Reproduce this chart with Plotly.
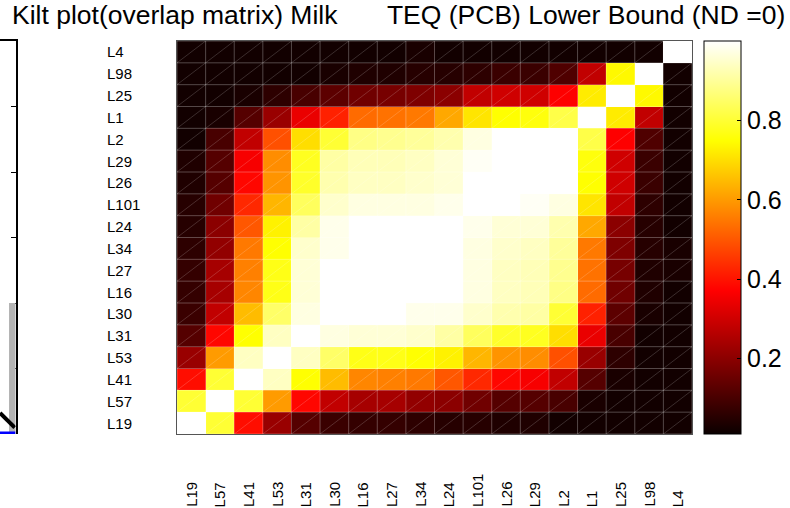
import plotly.graph_objects as go

labels = ["L19", "L57", "L41", "L53", "L31", "L30", "L16", "L27", "L34",
          "L24", "L101", "L26", "L29", "L2", "L1", "L25", "L98", "L4"]

row_L19 = [1.00, 0.80, 0.39, 0.22, 0.12, 0.08, 0.07, 0.07, 0.06, 0.05, 0.05, 0.04, 0.04, 0.02, 0.02, 0.02, 0.02, 0.02]
row_L57 = [0.80, 1.00, 0.80, 0.60, 0.38, 0.28, 0.24, 0.24, 0.21, 0.20, 0.16, 0.12, 0.12, 0.10, 0.03, 0.02, 0.02, 0.02]
row_L41 = [0.39, 0.80, 1.00, 0.94, 0.75, 0.65, 0.57, 0.56, 0.55, 0.50, 0.43, 0.38, 0.36, 0.28, 0.12, 0.03, 0.02, 0.02]
row_L53 = [0.22, 0.60, 0.94, 1.00, 0.94, 0.85, 0.77, 0.77, 0.75, 0.73, 0.64, 0.59, 0.58, 0.49, 0.22, 0.06, 0.02, 0.02]
row_L31 = [0.12, 0.38, 0.75, 0.94, 1.00, 0.97, 0.96, 0.96, 0.95, 0.91, 0.84, 0.79, 0.78, 0.70, 0.34, 0.10, 0.02, 0.02]
row_L30 = [0.08, 0.28, 0.65, 0.85, 0.97, 1.00, 1.00, 1.00, 0.98, 0.98, 0.95, 0.92, 0.91, 0.80, 0.42, 0.13, 0.03, 0.02]
row_L16 = [0.07, 0.24, 0.57, 0.77, 0.96, 1.00, 1.00, 1.00, 1.00, 1.00, 0.97, 0.94, 0.93, 0.88, 0.53, 0.16, 0.04, 0.02]
row_L27 = [0.07, 0.24, 0.56, 0.77, 0.96, 1.00, 1.00, 1.00, 1.00, 1.00, 0.97, 0.94, 0.93, 0.89, 0.54, 0.17, 0.04, 0.03]
row_L34 = [0.06, 0.21, 0.55, 0.75, 0.95, 0.98, 1.00, 1.00, 1.00, 1.00, 0.97, 0.95, 0.94, 0.90, 0.55, 0.18, 0.05, 0.03]
row_L24 = [0.05, 0.20, 0.50, 0.73, 0.91, 0.98, 1.00, 1.00, 1.00, 1.00, 0.98, 0.96, 0.96, 0.92, 0.62, 0.20, 0.05, 0.02]
row_L101 = [0.05, 0.16, 0.43, 0.64, 0.84, 0.95, 0.97, 0.97, 0.97, 0.98, 1.00, 1.00, 0.99, 0.97, 0.71, 0.28, 0.06, 0.02]
row_L26 = [0.04, 0.12, 0.38, 0.59, 0.79, 0.92, 0.94, 0.94, 0.95, 0.96, 1.00, 1.00, 1.00, 1.00, 0.75, 0.30, 0.08, 0.02]
row_L29 = [0.04, 0.12, 0.36, 0.58, 0.78, 0.91, 0.93, 0.93, 0.94, 0.96, 0.99, 1.00, 1.00, 1.00, 0.76, 0.30, 0.08, 0.02]
row_L2 = [0.02, 0.10, 0.28, 0.49, 0.70, 0.80, 0.88, 0.89, 0.90, 0.92, 0.97, 1.00, 1.00, 1.00, 0.82, 0.37, 0.11, 0.02]
row_L1 = [0.02, 0.03, 0.12, 0.22, 0.34, 0.42, 0.53, 0.54, 0.55, 0.62, 0.71, 0.75, 0.76, 0.82, 1.00, 0.72, 0.28, 0.02]
row_L25 = [0.02, 0.02, 0.03, 0.06, 0.10, 0.13, 0.16, 0.17, 0.18, 0.20, 0.28, 0.30, 0.30, 0.37, 0.72, 1.00, 0.74, 0.02]
row_L98 = [0.02, 0.02, 0.02, 0.02, 0.02, 0.03, 0.04, 0.04, 0.05, 0.05, 0.06, 0.08, 0.08, 0.11, 0.28, 0.74, 1.00, 0.02]
row_L4 = [0.02, 0.02, 0.02, 0.02, 0.02, 0.02, 0.02, 0.02, 0.03, 0.02, 0.02, 0.02, 0.02, 0.02, 0.02, 0.02, 0.02, 1.00]

colorbar_ticks = [0.2, 0.4, 0.6, 0.8]

# partial neighbouring panel (cut off at the left edge)
strip_bar_x = [0.79]
strip_bar_h = [2.0]
strip_line_x = [0.0, 0.95]
strip_line_y = [0.32, 0.10]
strip_base_x = [0.0, 1.0]
strip_base_y = [0.02, 0.02]

z = [row_L19, row_L57, row_L41, row_L53, row_L31, row_L30, row_L16, row_L27, row_L34,
     row_L24, row_L101, row_L26, row_L29, row_L2, row_L1, row_L25, row_L98, row_L4]
n = len(labels)
idx = list(range(n))

FONT = "Liberation Sans, Arial, sans-serif"
W, H = 790, 508
L, R, T, B = 177, 692, 41, 434

hot = [[0.0, "rgb(11,0,0)"], [0.365, "rgb(255,0,0)"],
       [0.746, "rgb(255,255,0)"], [1.0, "rgb(255,255,255)"]]

fig = go.Figure()
fig.add_trace(go.Heatmap(
    z=z, x=idx, y=idx, zmin=0.01, zmax=1.0, colorscale=hot,
    colorbar=dict(thickness=37, thicknessmode="pixels", len=1, lenmode="fraction",
                  x=704 / W, xanchor="left", xpad=0, y=0.5, yanchor="middle", ypad=0,
                  outlinewidth=1, outlinecolor="black",
                  tickvals=colorbar_ticks, ticktext=[str(t) for t in colorbar_ticks],
                  ticks="inside", ticklen=4, tickcolor="black",
                  tickfont=dict(family=FONT, size=25, color="black")),
    xaxis="x", yaxis="y", hoverinfo="skip"))

# cell grid
gx, gy = [], []
for k in range(n + 1):
    gx += [k - 0.5, k - 0.5, None]
    gy += [-0.5, n - 0.5, None]
    gx += [-0.5, n - 0.5, None]
    gy += [k - 0.5, k - 0.5, None]
fig.add_trace(go.Scatter(x=gx, y=gy, mode="lines",
                         line=dict(color="rgba(255,255,255,0.28)", width=1),
                         hoverinfo="skip", showlegend=False, xaxis="x", yaxis="y"))
# diagonals of the faceted cells
dx, dy = [], []
for k in range(-(n - 1), n):
    x0 = max(-0.5, -0.5 + k)
    x1 = min(n - 0.5, n - 0.5 + k)
    dx += [x0, x1, None]
    dy += [x0 - k, x1 - k, None]
fig.add_trace(go.Scatter(x=dx, y=dy, mode="lines",
                         line=dict(color="rgba(255,255,255,0.22)", width=0.8),
                         hoverinfo="skip", showlegend=False, xaxis="x", yaxis="y"))

# neighbouring panel pieces
fig.add_trace(go.Bar(x=strip_bar_x, y=strip_bar_h, width=0.42, marker=dict(color="#b4b4b4", line=dict(width=0)),
                     xaxis="x2", yaxis="y2", showlegend=False, hoverinfo="skip"))
fig.add_trace(go.Scatter(x=strip_line_x, y=strip_line_y, mode="lines", line=dict(color="black", width=4),
                         xaxis="x2", yaxis="y2", showlegend=False, hoverinfo="skip"))
fig.add_trace(go.Scatter(x=strip_base_x, y=strip_base_y, mode="lines", line=dict(color="blue", width=2.5),
                         xaxis="x2", yaxis="y2", showlegend=False, hoverinfo="skip"))

annotations = []
for i, lab in enumerate(labels):
    annotations.append(dict(text=lab, x=105 / W, xref="paper", xanchor="left",
                            y=i, yref="y", yanchor="middle", showarrow=False,
                            font=dict(family=FONT, size=15, color="black")))
    annotations.append(dict(text=lab, x=i, xref="x", xanchor="center",
                            y=(B - 509) / (B - T), yref="paper", yanchor="bottom",
                            textangle=-90, showarrow=False,
                            font=dict(family=FONT, size=15, color="black")))

nb = "\u00a0"
title_text = "Kilt plot(overlap matrix) Milk" + nb * 6 + "\u2009" + "TEQ (PCB) Lower Bound (ND =0)"

fig.update_layout(
    width=W, height=H,
    margin=dict(l=0, r=0, t=T, b=H - B, pad=0, autoexpand=False),
    paper_bgcolor="white", plot_bgcolor="white",
    font=dict(family=FONT, color="black"),
    title=dict(text=title_text, x=12 / W, xanchor="left", y=1 - 15 / H, yanchor="middle",
               font=dict(family=FONT, size=26.5, color="black")),
    xaxis=dict(domain=[L / W, R / W], range=[-0.5, n - 0.5], showticklabels=False,
               showgrid=False, zeroline=False, ticks="", showline=True, mirror=True,
               linecolor="#555", linewidth=1),
    yaxis=dict(domain=[0, 1], range=[-0.5, n - 0.5], showticklabels=False,
               showgrid=False, zeroline=False, ticks="", showline=True, mirror=True,
               linecolor="#555", linewidth=1),
    xaxis2=dict(domain=[0, 15.5 / W], range=[0, 1], anchor="y2", side="top",
                showticklabels=False, showgrid=False, zeroline=False, ticks="",
                showline=True, linecolor="black", linewidth=2, layer="below traces"),
    yaxis2=dict(domain=[0, 1], range=[0, 6], anchor="x2", side="right", dtick=1,
                showticklabels=False, showgrid=False, zeroline=False,
                ticks="inside", ticklen=5, tickcolor="black", tickwidth=1,
                showline=True, linecolor="black", linewidth=2, layer="below traces"),
    annotations=annotations,
    bargap=0,
)

fig.write_html("out.html", config={"displayModeBar": False},
               post_script="document.body.style.margin='0';document.body.style.padding='0';")
